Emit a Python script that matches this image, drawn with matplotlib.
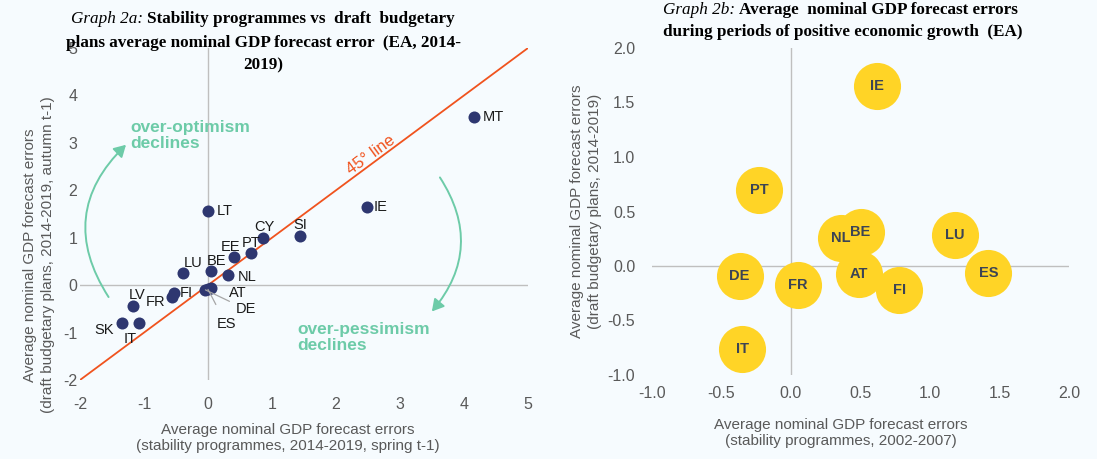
import numpy as np
import matplotlib.pyplot as plt
from matplotlib.patches import FancyArrowPatch

# Graph 2a data: stability programmes (x) vs draft budgetary plans (y)
countries_a = ['MT', 'IE', 'SI', 'CY', 'PT', 'EE', 'LT', 'LU', 'BE', 'NL',
               'AT', 'DE', 'ES', 'FI', 'FR', 'LV', 'SK', 'IT']
sp_a = [4.16, 2.48, 1.44, 0.86, 0.67, 0.41, 0.0, -0.39, 0.05, 0.31,
        0.04, -0.04, 0.0, -0.53, -0.56, -1.17, -1.34, -1.08]
dbp_a = [3.55, 1.64, 1.04, 1.0, 0.68, 0.6, 1.57, 0.26, 0.30, 0.21,
         -0.05, -0.10, -0.09, -0.17, -0.26, -0.45, -0.79, -0.79]

# Graph 2b data: positive growth periods
countries_b = ['IE', 'PT', 'NL', 'BE', 'LU', 'DE', 'FR', 'AT', 'FI', 'ES', 'IT']
sp_b = [0.62, -0.23, 0.36, 0.50, 1.18, -0.37, 0.05, 0.49, 0.78, 1.42, -0.35]
dbp_b = [1.65, 0.70, 0.26, 0.31, 0.28, -0.09, -0.17, -0.07, -0.22, -0.06, -0.76]

ticks_a = [-2, -1, 0, 1, 2, 3, 4, 5]
ticks_b = [-1.0, -0.5, 0.0, 0.5, 1.0, 1.5, 2.0]

# label placement for 2a: (dx, dy in points, ha)
lab_pos = {'MT': (6, 0, 'left'), 'IE': (5, 0, 'left'), 'SI': (0, 8, 'center'),
           'CY': (1, 8, 'center'), 'PT': (0, 7, 'center'), 'EE': (-3, 7, 'center'),
           'LT': (6, 0, 'left'), 'LU': (7, 7, 'center'), 'BE': (4, 7, 'center'),
           'NL': (7, -1, 'left'), 'FI': (4, 0, 'left'), 'FR': (-5, -3, 'right'),
           'LV': (3, 8, 'center'), 'SK': (-6, -5, 'right'), 'IT': (-6, -12, 'center')}

BG = '#F6FBFE'
GREY = '#595959'
NAVY = '#2E3770'
ORANGE = '#F0531E'
TEAL = '#6DCBA8'
YELLOW = '#FFD426'

plt.rcParams['font.family'] = ['Liberation Sans', 'DejaVu Sans']
plt.rcParams['axes.unicode_minus'] = False

fig = plt.figure(figsize=(10.97, 4.59), dpi=100, facecolor=BG)
W, H = 1097, 459

ax1 = fig.add_axes([80 / W, 1 - 380 / H, 448 / W, 332 / H])
ax2 = fig.add_axes([652 / W, 1 - 375 / H, 417 / W, 327 / H])

for ax in (ax1, ax2):
    ax.set_facecolor(BG)
    for sp in ax.spines.values():
        sp.set_visible(False)
    ax.axhline(0, color='#BFBFBF', lw=1, zorder=0)
    ax.axvline(0, color='#BFBFBF', lw=1, zorder=0)
    ax.tick_params(length=0, labelsize=11.5, labelcolor=GREY)

# ---- Graph 2a
ax1.set_xlim(-2, 5)
ax1.set_ylim(-2, 5)
ax1.set_xticks(ticks_a)
ax1.set_yticks(ticks_a)
ax1.tick_params(axis='x', pad=12)
ax1.tick_params(axis='y', pad=2)
ax1.plot([-2, 5], [-2, 5], color=ORANGE, lw=1.3, zorder=1)
ax1.scatter(sp_a, dbp_a, s=75, color=NAVY, zorder=3, linewidths=0)

for c, x, y in zip(countries_a, sp_a, dbp_a):
    if c in lab_pos:
        dx, dy, ha = lab_pos[c]
        ax1.annotate(c, (x, y), xytext=(dx, dy), textcoords='offset points',
                     ha=ha, va='center', fontsize=10.5, color='#1A1A1A', zorder=4)

i_at = countries_a.index('AT')
i_de = countries_a.index('DE')
i_es = countries_a.index('ES')
ax1.annotate('AT', (sp_a[i_at], dbp_a[i_at]), xytext=(13, -4), textcoords='offset points',
             ha='left', va='center', fontsize=10.5, color='#1A1A1A')
ax1.annotate('DE', (sp_a[i_de], dbp_a[i_de]), xytext=(22, -14), textcoords='offset points',
             ha='left', va='center', fontsize=10.5, color='#1A1A1A',
             arrowprops=dict(arrowstyle='-', color='#A6A6A6', lw=0.9, shrinkA=3, shrinkB=0))
ax1.annotate('ES', (sp_a[i_es], dbp_a[i_es]), xytext=(13, -25), textcoords='offset points',
             ha='center', va='center', fontsize=10.5, color='#1A1A1A',
             arrowprops=dict(arrowstyle='-', color='#A6A6A6', lw=0.9, shrinkA=8, shrinkB=0))

ax1.text(2.55, 2.74, '45° line', rotation=36, color=ORANGE, fontsize=12,
         ha='center', va='center', rotation_mode='anchor')

arc1 = FancyArrowPatch((-1.53, -0.3), (-1.25, 3.0), connectionstyle='arc3,rad=-0.42',
                       arrowstyle='-|>,head_length=7,head_width=4', color=TEAL, lw=1.4)
arc2 = FancyArrowPatch((3.6, 2.32), (3.47, -0.6), connectionstyle='arc3,rad=-0.38',
                       arrowstyle='-|>,head_length=7,head_width=4', color=TEAL, lw=1.4)
ax1.add_patch(arc1)
ax1.add_patch(arc2)
ax1.text(-1.22, 3.15, 'over-optimism\ndeclines', color=TEAL, fontsize=12.5,
         fontweight='bold', ha='left', va='center', linespacing=1.1)
ax1.text(1.39, -1.1, 'over-pessimism\ndeclines', color=TEAL, fontsize=12.5,
         fontweight='bold', ha='left', va='center', linespacing=1.1)

fig.text(288 / W, 1 - 438 / H,
         'Average nominal GDP forecast errors\n(stability programmes, 2014-2019, spring t-1)',
         ha='center', va='center', fontsize=11, color=GREY, linespacing=1.2)
fig.text(39 / W, 1 - 255 / H,
         'Average nominal GDP forecast errors\n(draft budgetary plans, 2014-2019, autumn t-1)',
         ha='center', va='center', rotation=90, fontsize=11, color=GREY, linespacing=1.3)

# ---- Graph 2b
ax2.set_xlim(-1, 2)
ax2.set_ylim(-1, 2)
ax2.set_xticks(ticks_b)
ax2.set_yticks(ticks_b)
ax2.xaxis.set_major_formatter(plt.FormatStrFormatter('%.1f'))
ax2.yaxis.set_major_formatter(plt.FormatStrFormatter('%.1f'))
ax2.tick_params(axis='x', pad=8)
ax2.tick_params(axis='y', pad=12)
ax2.scatter(sp_b, dbp_b, s=1150, color=YELLOW, zorder=3, linewidths=0)
for c, x, y in zip(countries_b, sp_b, dbp_b):
    ax2.text(x, y, c, ha='center', va='center', fontsize=10.5, fontweight='bold',
             color='#3C4454', zorder=4)

fig.text(841 / W, 1 - 433 / H,
         'Average nominal GDP forecast errors\n(stability programmes, 2002-2007)',
         ha='center', va='center', fontsize=11, color=GREY, linespacing=1.2)
fig.text(586 / W, 1 - 211 / H,
         'Average nominal GDP forecast errors\n(draft budgetary plans, 2014-2019)',
         ha='center', va='center', rotation=90, fontsize=11, color=GREY, linespacing=1.3)


# ---- titles with italic prefix and bold remainder
def mixed_title(x_px, ys_px, lines, align):
    r = fig.canvas.get_renderer()
    for y, parts in zip(ys_px, lines):
        txts = []
        for s, italic in parts:
            t = fig.text(0, 1 - y / H, s, family=['Liberation Serif', 'DejaVu Serif'],
                         fontsize=12.3, fontstyle='italic' if italic else 'normal',
                         fontweight='normal' if italic else 'bold', va='center', ha='left')
            txts.append(t)
        widths = [t.get_window_extent(r).width for t in txts]
        gap = 4
        total = sum(widths) + gap * (len(widths) - 1)
        start = x_px - total / 2 if align == 'center' else x_px
        for t, w in zip(txts, widths):
            t.set_x(start / W)
            start += w + gap


mixed_title(263, [19, 43, 65],
            [[('Graph 2a:', True), ('Stability programmes vs  draft  budgetary', False)],
             [('plans average nominal GDP forecast error  (EA, 2014-', False)],
             [('2019)', False)]], 'center')
mixed_title(663, [10, 32],
            [[('Graph 2b:', True), ('Average  nominal GDP forecast errors', False)],
             [('during periods of positive economic growth  (EA)', False)]], 'left')

fig.savefig('out.png', dpi=100, facecolor=BG)
